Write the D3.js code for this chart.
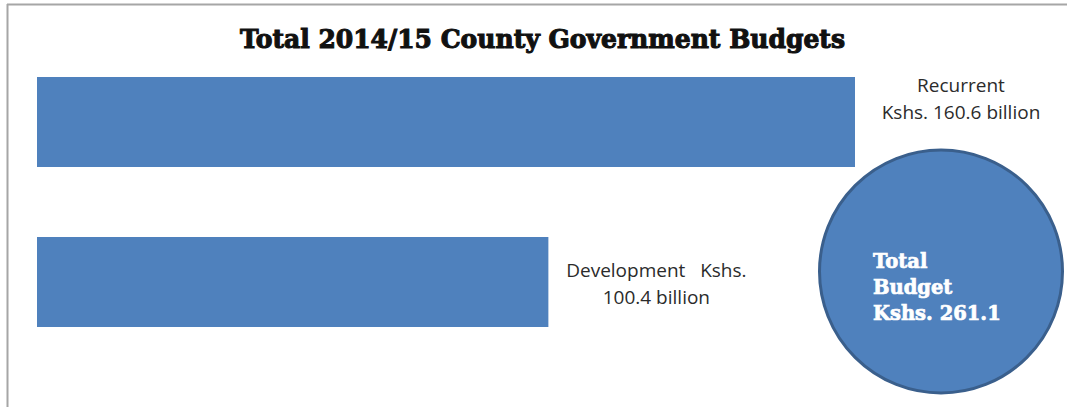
<!DOCTYPE html>
<html>
<head>
<meta charset="utf-8">
<script src="https://cdn.jsdelivr.net/npm/d3@7"></script>
<style>
  html, body { margin: 0; padding: 0; background: #ffffff; }
  svg { display: block; }
</style>
</head>
<body>
<svg id="chart" width="1067" height="407"></svg>
<script>
// Budget components, billions of Kenyan shillings
const categories = ["Recurrent", "Development"];
const values = [160.6, 100.4];
const labelLines = [
  ["Recurrent", "Kshs. 160.6 billion"],
  ["Development   Kshs.", "100.4 billion"]
];
const totalLines = ["Total", "Budget", "Kshs. 261.1"];
const title = "Total 2014/15 County Government Budgets";

const svg = d3.select("#chart");
const W = 1067, H = 407;

// outer frame (top and left edges)
svg.append("line").attr("x1", 7).attr("x2", W).attr("y1", 4.5).attr("y2", 4.5)
  .attr("stroke", "#a6a6a6").attr("stroke-width", 2);
svg.append("line").attr("x1", 7.5).attr("x2", 7.5).attr("y1", 4).attr("y2", H)
  .attr("stroke", "#a6a6a6").attr("stroke-width", 2);

// title
svg.append("text")
  .attr("x", 240).attr("y", 48)
  .attr("textLength", 605).attr("lengthAdjust", "spacingAndGlyphs")
  .style("font-family", "'DejaVu Serif', serif")
  .style("font-weight", 900)
  .style("font-size", "26px")
  .attr("fill", "#111")
  .attr("stroke", "#111").attr("stroke-width", 1.1)
  .text(title);

const x = d3.scaleLinear().domain([0, values[0]]).range([37, 855]);
const y = d3.scaleBand().domain(categories).range([77, 327])
  .paddingInner(0.4375).paddingOuter(0);

// bars
svg.selectAll("rect.bar")
  .data(categories)
  .join("rect")
  .attr("class", "bar")
  .attr("x", x(0))
  .attr("y", d => y(d))
  .attr("width", (d, i) => x(values[i]) - x(0))
  .attr("height", y.bandwidth())
  .attr("fill", "#4f81bd");

// total circle
const cx = 941, cy = 271.5, r = 121.5;
svg.append("circle")
  .attr("cx", cx).attr("cy", cy).attr("r", r)
  .attr("fill", "#4f81bd")
  .attr("stroke", "#3a5f8c").attr("stroke-width", 3);

// value labels
const labelFont = "'Open Sans', 'Liberation Sans', sans-serif";
const labelPos = [
  { cx: x(values[0]) + 106, y0: 92 },
  { cx: x(values[1]) + 108, y0: 277 }
];
labelLines.forEach((lines, i) => {
  const t = svg.append("text")
    .attr("text-anchor", "middle")
    .style("font-family", labelFont)
    .style("font-size", "19px")
    .style("white-space", "pre")
    .attr("fill", "#2b2b2b");
  lines.forEach((ln, j) => {
    t.append("tspan")
      .attr("x", labelPos[i].cx)
      .attr("y", labelPos[i].y0 + j * 27)
      .text(ln);
  });
});

// text inside circle
const ct = svg.append("text")
  .style("font-family", "'DejaVu Serif', serif")
  .style("font-weight", 900)
  .style("font-size", "19.5px")
  .attr("fill", "#ffffff")
  .attr("stroke", "#ffffff").attr("stroke-width", 0.7);
totalLines.forEach((ln, j) => {
  ct.append("tspan").attr("x", 873).attr("y", 268 + j * 26).text(ln);
});
</script>
</body>
</html>
